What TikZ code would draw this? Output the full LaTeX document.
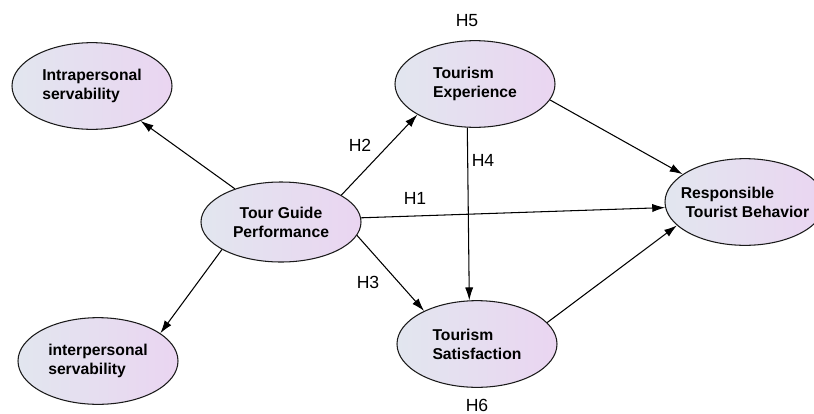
\documentclass[tikz,border=0pt]{standalone}
\usepackage{fontspec}
\setmainfont{Liberation Sans}
\usepackage{xcolor}
\usepackage{tikz}
\usetikzlibrary{positioning, arrows.meta, shapes.geometric}
\definecolor{ovalleft}{HTML}{E2E6EF}
\definecolor{ovalright}{HTML}{EAD5F1}
\definecolor{ovalborde}{HTML}{1A1A1A}

\begin{document}
\begin{tikzpicture}[
    x=0.03cm, y=-0.03cm,
    every node/.style={font=\fontsize{15}{18}\selectfont},
    oval/.style={ellipse, draw=ovalborde, line width=0.9pt, left color=ovalleft, right color=ovalright,
        minimum width=4.8cm, minimum height=2.6cm, inner xsep=-8pt, inner ysep=0pt, align=left,
        font=\fontsize{13.4}{16.2}\selectfont\bfseries},
    hlabel/.style={inner sep=1pt},
    conn/.style={-{Latex[length=11pt, width=7pt]}, line width=0.9pt, color=black}
]
\useasboundingbox (0,0) rectangle (814,413);

\node[oval] (intra) at (92,86) {Intrapersonal\\servability};
\node[oval] (inter) at (98,361) {interpersonal\\servability};
\node[oval, minimum height=2.4cm, align=center] (tgp) at (281,222) {Tour Guide\\Performance};
\node[oval] (te) at (475,84) {Tourism\\Experience};
\node[oval] (ts) at (477,344) {Tourism\\Satisfaction};
\node[oval] (rtb) at (745,202) {Responsible\\\hspace*{4pt}Tourist Behavior};

\draw[conn] (tgp) -- (intra);
\draw[conn] (tgp.205) -- (inter.24);
\draw[conn] (tgp.24) -- (te.208);
\draw[conn] (tgp.3) -- (rtb.184);
\draw[conn] (tgp.-10) -- (ts.148);
\draw[conn] (te.260) -- (ts.100);
\draw[conn] (te.-12) -- (rtb.156);
\draw[conn] (ts.17) -- (rtb.199);

\node[hlabel] (h5) at (467,21) {H5};
\node[hlabel] (h2) at (360,145) {H2};
\node[hlabel] (h4) at (483,160) {H4};
\node[hlabel] (h1) at (415,198) {H1};
\node[hlabel] (h3) at (368,282) {H3};
\node[hlabel] (h6) at (477,405) {H6};
\end{tikzpicture}
\end{document}
